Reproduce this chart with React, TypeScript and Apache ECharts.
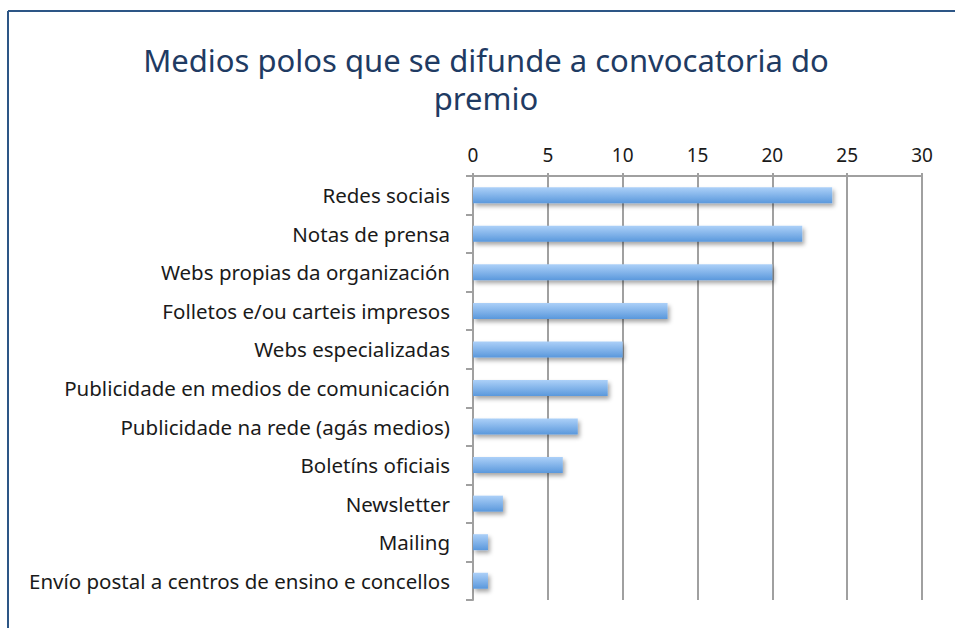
import React, { useEffect, useRef } from "react";
import * as echarts from "echarts";

const categories = [
  "Redes sociais",
  "Notas de prensa",
  "Webs propias da organización",
  "Folletos e/ou carteis impresos",
  "Webs especializadas",
  "Publicidade en medios de comunicación",
  "Publicidade na rede (agás medios)",
  "Boletíns oficiais",
  "Newsletter",
  "Mailing",
  "Envío postal a centros de ensino e concellos",
];
const values = [24, 22, 20, 13, 10, 9, 7, 6, 2, 1, 1];
const titleLines = ["Medios polos que se difunde a convocatoria do", "premio"];

export default function App() {
  const ref = useRef<HTMLDivElement>(null);
  useEffect(() => {
    const chart = echarts.init(ref.current!, null, { renderer: "svg" });
    const font = "'Noto Sans', sans-serif";
    const titleStyle = {
      fontSize: 31,
      lineHeight: 36,
      fontWeight: "normal",
      fontFamily: font,
      color: "#1f3b63",
    };
    chart.setOption({
      animation: false,
      title: [
        { text: titleLines[0], left: 486, top: 42, textAlign: "center", padding: 0, textStyle: titleStyle },
        { text: titleLines[1], left: 486, top: 80, textAlign: "center", padding: 0, textStyle: titleStyle },
      ],
      graphic: [
        { type: "line", shape: { x1: 8, y1: 11, x2: 8, y2: 628 }, style: { stroke: "#2d5686", lineWidth: 2 } },
        { type: "line", shape: { x1: 8, y1: 11, x2: 955, y2: 11 }, style: { stroke: "#2d5686", lineWidth: 2 } },
      ],
      grid: { left: 473, right: 33, top: 176, bottom: 28, containLabel: false },
      xAxis: {
        type: "value",
        position: "top",
        min: 0,
        max: 30,
        interval: 5,
        axisLine: { show: true, lineStyle: { color: "#a0a0a0", width: 2 } },
        axisTick: { show: true, length: 3, lineStyle: { color: "#a0a0a0", width: 2 } },
        splitLine: { show: true, lineStyle: { color: "#a0a0a0", width: 2 } },
        axisLabel: { fontSize: 19, color: "#1a1a1a", fontFamily: font, margin: 12 },
      },
      yAxis: {
        type: "category",
        data: categories,
        inverse: true,
        axisLine: { show: true, lineStyle: { color: "#a0a0a0", width: 2 } },
        axisTick: { show: true, length: 7, lineStyle: { color: "#a0a0a0", width: 2 } },
        axisLabel: { fontSize: 20.5, color: "#1a1a1a", fontFamily: font, margin: 23 },
      },
      series: [
        {
          type: "bar",
          data: values,
          barWidth: 16,
          itemStyle: {
            color: new echarts.graphic.LinearGradient(0, 0, 0, 1, [
              { offset: 0, color: "#acd0f8" },
              { offset: 1, color: "#5a98dc" },
            ]),
            shadowBlur: 4,
            shadowOffsetX: 2,
            shadowOffsetY: 3,
            shadowColor: "rgba(0,0,0,0.35)",
          },
        },
      ],
    });
    return () => chart.dispose();
  }, []);
  return (
    <div
      ref={ref}
      style={{ position: "fixed", left: 0, top: 0, width: 955, height: 628, background: "#fff" }}
    />
  );
}
